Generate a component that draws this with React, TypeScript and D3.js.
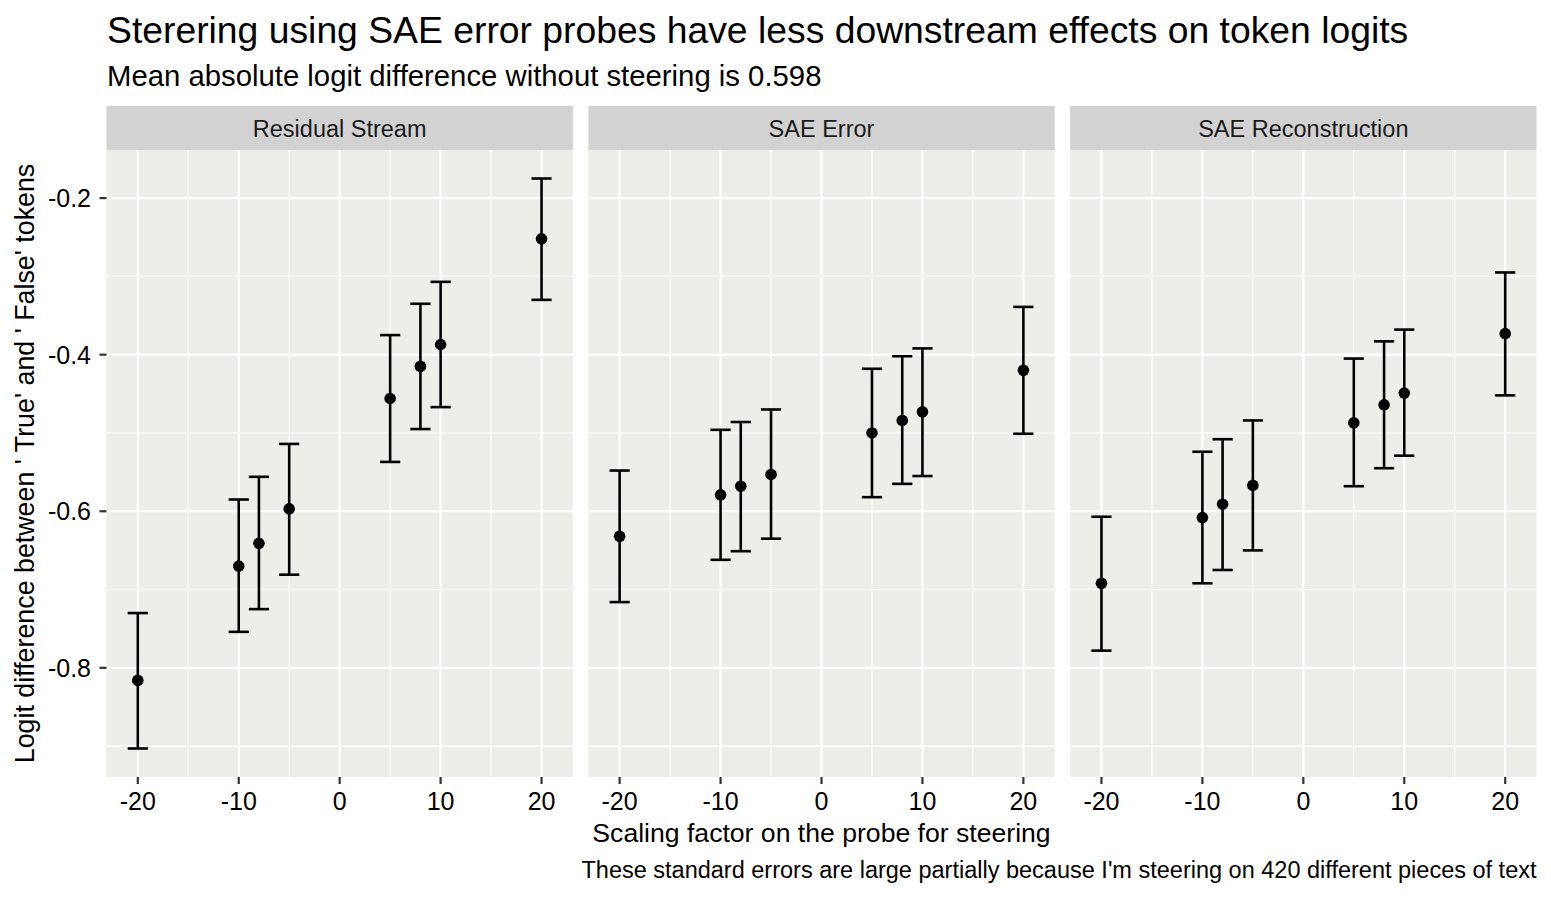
import React, { useEffect } from 'react';
import * as d3 from 'd3';

// --- data ---
const scalingFactors = [-20, -10, -8, -5, 5, 8, 10, 20];

const panelNames = ['Residual Stream', 'SAE Error', 'SAE Reconstruction'];

const residualMean = [-0.816, -0.670, -0.641, -0.597, -0.456, -0.415, -0.387, -0.252];
const residualLower = [-0.903, -0.754, -0.725, -0.681, -0.537, -0.495, -0.467, -0.330];
const residualUpper = [-0.730, -0.585, -0.556, -0.514, -0.375, -0.335, -0.307, -0.175];

const errorMean = [-0.632, -0.579, -0.568, -0.553, -0.500, -0.484, -0.473, -0.420];
const errorLower = [-0.716, -0.662, -0.651, -0.635, -0.582, -0.565, -0.555, -0.501];
const errorUpper = [-0.548, -0.496, -0.486, -0.470, -0.418, -0.402, -0.392, -0.339];

const reconMean = [-0.692, -0.608, -0.591, -0.567, -0.487, -0.464, -0.449, -0.373];
const reconLower = [-0.778, -0.692, -0.675, -0.650, -0.568, -0.545, -0.529, -0.452];
const reconUpper = [-0.607, -0.524, -0.508, -0.484, -0.405, -0.383, -0.368, -0.295];

const xTicks = [-20, -10, 0, 10, 20];
const xMinor = [-15, -5, 5, 15];
const yTicks = [-0.2, -0.4, -0.6, -0.8];
const yMinor = [-0.3, -0.5, -0.7, -0.9];

const titleText = 'Sterering using SAE error probes have less downstream effects on token logits';
const subtitleText = 'Mean absolute logit difference without steering is 0.598';
const xTitle = 'Scaling factor on the probe for steering';
const yTitle = "Logit difference between ' True' and ' False' tokens";
const captionText = "These standard errors are large partially because I'm steering on 420 different pieces of text";

const seriesMeans = [residualMean, errorMean, reconMean];
const seriesLower = [residualLower, errorLower, reconLower];
const seriesUpper = [residualUpper, errorUpper, reconUpper];

// --- layout ---
const W = 1551;
const H = 898;
const FONT = '"Liberation Sans", Arial, Helvetica, sans-serif';
const plotLeft = 106.5;
const plotRight = 1536.5;
const panelGap = 15.5;
const panelW = (plotRight - plotLeft - 2 * panelGap) / 3;
const stripTop = 106;
const panelTop = 150;
const panelBottom = 777;
const capHalf = 1; // errorbar half width in data units

const expand = (lo: number, hi: number) => {
  const pad = (hi - lo) * 0.05;
  return [lo - pad, hi + pad];
};

export default function App() {
  useEffect(() => {
    document.body.style.margin = '0';
  }, []);

  const allLower = d3.min(seriesLower.flat()) as number;
  const allUpper = d3.max(seriesUpper.flat()) as number;
  const y = d3.scaleLinear().domain(expand(allLower, allUpper)).range([panelBottom, panelTop]);

  const xMin = (d3.min(scalingFactors) as number) - capHalf;
  const xMax = (d3.max(scalingFactors) as number) + capHalf;

  return (
    <svg width={W} height={H} style={{ position: 'absolute', left: 0, top: 0, background: '#fff' }} fontFamily={FONT}>
      <rect width={W} height={H} fill="#fff" />
      <text x={107} y={43} fontSize={37.3} fill="#000">{titleText}</text>
      <text x={107} y={86} fontSize={29.3} fill="#000">{subtitleText}</text>

      {panelNames.map((name, pi) => {
        const left = plotLeft + pi * (panelW + panelGap);
        const x = d3.scaleLinear().domain(expand(xMin, xMax)).range([left, left + panelW]);
        const means = seriesMeans[pi];
        const lows = seriesLower[pi];
        const ups = seriesUpper[pi];
        const cw = x(capHalf) - x(0);
        return (
          <g key={name}>
            <rect x={left} y={stripTop} width={panelW} height={panelTop - stripTop} fill="#D2D2D2" />
            <text x={left + panelW / 2} y={(stripTop + panelTop) / 2 + 8.5} fontSize={23.5} textAnchor="middle" fill="#1A1A1A">{name}</text>
            <rect x={left} y={panelTop} width={panelW} height={panelBottom - panelTop} fill="#EDEEE9" />
            {yMinor.filter(v => y(v) > panelTop && y(v) < panelBottom).map(v => (
              <line key={'ym' + v} x1={left} x2={left + panelW} y1={y(v)} y2={y(v)} stroke="#fff" strokeWidth={1.1} />
            ))}
            {xMinor.map(v => (
              <line key={'xm' + v} x1={x(v)} x2={x(v)} y1={panelTop} y2={panelBottom} stroke="#fff" strokeWidth={1.1} />
            ))}
            {yTicks.map(v => (
              <line key={'yM' + v} x1={left} x2={left + panelW} y1={y(v)} y2={y(v)} stroke="#fff" strokeWidth={2.2} />
            ))}
            {xTicks.map(v => (
              <line key={'xM' + v} x1={x(v)} x2={x(v)} y1={panelTop} y2={panelBottom} stroke="#fff" strokeWidth={2.2} />
            ))}
            {scalingFactors.map((s, i) => (
              <g key={'eb' + s}>
                <line x1={x(s)} x2={x(s)} y1={y(lows[i])} y2={y(ups[i])} stroke="#000" strokeWidth={2.6} />
                <line x1={x(s) - cw} x2={x(s) + cw} y1={y(lows[i])} y2={y(lows[i])} stroke="#000" strokeWidth={2.6} />
                <line x1={x(s) - cw} x2={x(s) + cw} y1={y(ups[i])} y2={y(ups[i])} stroke="#000" strokeWidth={2.6} />
                <circle cx={x(s)} cy={y(means[i])} r={5.8} fill="#000" />
              </g>
            ))}
            {xTicks.map(v => (
              <g key={'xt' + v}>
                <line x1={x(v)} x2={x(v)} y1={panelBottom} y2={panelBottom + 7} stroke="#333" strokeWidth={2.2} />
                <text x={x(v)} y={810} fontSize={25} textAnchor="middle" fill="#000">{v}</text>
              </g>
            ))}
          </g>
        );
      })}

      {yTicks.map(v => (
        <g key={'yt' + v}>
          <line x1={plotLeft - 7} x2={plotLeft} y1={y(v)} y2={y(v)} stroke="#333" strokeWidth={2.2} />
          <text x={91} y={y(v) + 9} fontSize={25} textAnchor="end" fill="#000">{d3.format('.1f')(v).replace('−', '-')}</text>
        </g>
      ))}

      <text x={(plotLeft + plotRight) / 2} y={842} fontSize={26.6} textAnchor="middle" fill="#000">{xTitle}</text>
      <text transform={`translate(34,${(panelTop + panelBottom) / 2}) rotate(-90)`} fontSize={26.8} textAnchor="middle" fill="#000">{yTitle}</text>
      <text x={plotRight} y={878} fontSize={23.5} textAnchor="end" fill="#000">{captionText}</text>
    </svg>
  );
}
